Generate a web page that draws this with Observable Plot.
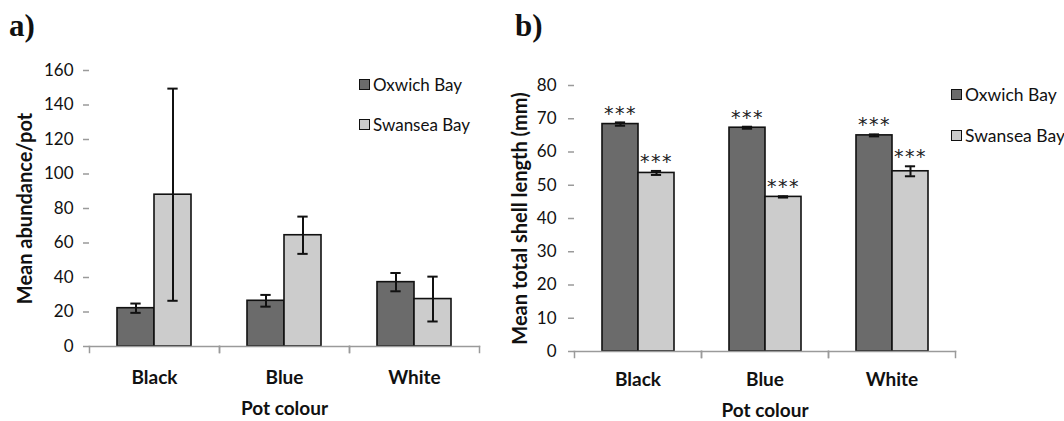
<!DOCTYPE html>
<html>
<head>
<meta charset="utf-8">
<script src="https://cdn.jsdelivr.net/npm/d3@7"></script>
<script src="https://cdn.jsdelivr.net/npm/@observablehq/plot@0.6"></script>
<style>
  body { margin: 0; background: #fff; }
  #fig { position: relative; width: 1064px; height: 421px; overflow: hidden; font-family: Lato, sans-serif; color: #111; }
  .panel { position: absolute; top: 0; }
  .tag { position: absolute; font-family: "Liberation Serif", "Times New Roman", serif; font-weight: bold; font-size: 31px; line-height: 1; }
  .legend { position: absolute; font-size: 17px; }
  .legend .row { position: absolute; left: 0; height: 20px; display: flex; align-items: center; white-space: nowrap; }
  .legend .sw { width: 9px; height: 9px; border: 1.5px solid #111; margin-right: 3px; }
</style>
</head>
<body>
<div id="fig">
  <div class="tag" style="left:9px;top:10px">a)</div>
  <div class="tag" style="left:515px;top:10px">b)</div>
  <div class="panel" id="panelA" style="left:0px"></div>
  <div class="panel" id="panelB" style="left:520px"></div>
  <div class="legend" id="legendA" style="left:359px;top:0px"></div>
  <div class="legend" id="legendB" style="left:951px;top:0px;font-size:17.5px"></div>
</div>
<script>
// Categories and series
const potColours = ["Black", "Blue", "White"];
const sites = ["Oxwich Bay", "Swansea Bay"];
const siteFills = ["#6b6b6b", "#cccccc"];

// a) Mean abundance per pot (± SE)
const abundanceOxwich = [22.2, 26.5, 37.3];
const abundanceOxwichSE = [2.7, 3.4, 5.3];
const abundanceSwansea = [88.0, 64.5, 27.5];
const abundanceSwanseaSE = [61.5, 10.8, 13.0];
const abundanceTicks = [0, 20, 40, 60, 80, 100, 120, 140, 160];

// b) Mean total shell length in mm (± SE) with significance flags
const lengthOxwich = [68.4, 67.3, 65.0];
const lengthOxwichSE = [0.5, 0.3, 0.3];
const lengthSwansea = [53.7, 46.5, 54.2];
const lengthSwanseaSE = [0.6, 0.2, 1.5];
const lengthOxwichSig = ["***", "***", "***"];
const lengthSwanseaSig = ["***", "***", "***"];
const lengthTicks = [0, 10, 20, 30, 40, 50, 60, 70, 80];

function rowsFrom(seriesA, seA, seriesB, seB, sigA, sigB) {
  const rows = [];
  potColours.forEach((pot, i) => {
    rows.push({pot, site: sites[0], value: seriesA[i], se: seA[i], sig: sigA ? sigA[i] : null});
    rows.push({pot, site: sites[1], value: seriesB[i], se: seB[i], sig: sigB ? sigB[i] : null});
  });
  return rows;
}

const axisGrey = "#9a9a9a";
const ink = "#111";

function groupedBars({rows, yDomain, yTicks, yLabel, width, height, margin, yTickPadding, yLabelOffset, xTickPadding, xLabelOffset, stars}) {
  const [mt, mr, mb, ml] = margin;
  const frameH = height - mt - mb;
  const outer = 0.73;
  const step = (width - ml - mr) / potColours.length;
  const bw = step / (2 + 2 * outer);
  const cap = (bw - 11) / 2;
  const lo = d => d.value - d.se;
  const hi = d => d.value + d.se;
  const marks = [
    Plot.barY(rows, {fx: "pot", x: "site", y: "value", fill: "site", stroke: ink, strokeWidth: 1.6}),
    Plot.ruleX(rows, {fx: "pot", x: "site", y1: lo, y2: hi, stroke: ink, strokeWidth: 2}),
    Plot.tickY(rows, {fx: "pot", x: "site", y: lo, stroke: ink, strokeWidth: 2, insetLeft: cap, insetRight: cap}),
    Plot.tickY(rows, {fx: "pot", x: "site", y: hi, stroke: ink, strokeWidth: 2, insetLeft: cap, insetRight: cap}),
    // category axis: baseline plus boundary ticks between pot colours
    Plot.frame({anchor: "bottom", stroke: axisGrey, strokeWidth: 1.5}),
    Plot.frame({anchor: "left", stroke: axisGrey, strokeWidth: 1.5, insetTop: frameH, insetBottom: -6}),
    Plot.frame({anchor: "right", stroke: axisGrey, strokeWidth: 1.5, insetTop: frameH, insetBottom: -6}),
    // value axis: line and outward ticks
    Plot.axisY({ticks: yTicks, tickSize: 6, line: true, stroke: axisGrey, strokeWidth: 1.5, fill: "none", label: null}),
    // value axis numbers
    Plot.text(yTicks, {y: d => d, text: d => String(d), frameAnchor: "left", textAnchor: "end",
      dx: -(6 + yTickPadding), fontSize: 17, fill: ink, facetAnchor: "left"}),
    Plot.axisY({ticks: [], line: false, label: yLabel, labelAnchor: "center", labelArrow: "none",
      labelOffset: yLabelOffset, fontSize: 20, fontWeight: "bold", fill: ink}),
    Plot.axisFx({anchor: "bottom", tickSize: 0, tickPadding: xTickPadding, fontSize: 19, fontWeight: "bold", fill: ink,
      label: "Pot colour", labelAnchor: "center", labelArrow: "none", labelOffset: xLabelOffset})
  ];
  if (stars) {
    marks.push(Plot.text(rows, {fx: "pot", x: "site", y: hi, text: "sig", dy: -9, lineAnchor: "middle",
      fontSize: 19, fill: "#222", fontFamily: "DejaVu Sans, sans-serif"}));
  }
  return Plot.plot({
    width, height,
    marginTop: mt, marginRight: mr, marginBottom: mb, marginLeft: ml,
    style: {fontFamily: "Lato, sans-serif", fontSize: "17px", color: ink, background: "transparent", overflow: "visible"},
    fx: {domain: potColours, padding: 0, label: null, axis: null},
    x: {domain: sites, paddingInner: 0, paddingOuter: outer, axis: null},
    y: {domain: yDomain, axis: null},
    color: {domain: sites, range: siteFills},
    marks
  });
}

const plotA = groupedBars({
  rows: rowsFrom(abundanceOxwich, abundanceOxwichSE, abundanceSwansea, abundanceSwanseaSE),
  yDomain: [0, 160], yTicks: abundanceTicks, yLabel: "Mean abundance/pot",
  width: 520, height: 421, margin: [70, 41, 75, 88], yTickPadding: 10, yLabelOffset: 72,
  xTickPadding: 24, xLabelOffset: 68, stars: false
});
document.getElementById("panelA").appendChild(plotA);

const plotB = groupedBars({
  rows: rowsFrom(lengthOxwich, lengthOxwichSE, lengthSwansea, lengthSwanseaSE, lengthOxwichSig, lengthSwanseaSig),
  yDomain: [0, 80], yTicks: lengthTicks, yLabel: "Mean total shell length (mm)",
  width: 544, height: 421, margin: [85, 109, 70, 53], yTickPadding: 12, yLabelOffset: 62,
  xTickPadding: 21, xLabelOffset: 65, stars: true
});
document.getElementById("panelB").appendChild(plotB);

// spaced-out significance asterisks
d3.select(plotB).selectAll("text").filter(function () { return this.textContent === "***"; })
  .style("letter-spacing", "1.5px");

// Legends
function legend(el, rowCentres) {
  sites.forEach((s, i) => {
    const row = document.createElement("div");
    row.className = "row";
    row.style.top = (rowCentres[i] - 10) + "px";
    const sw = document.createElement("span");
    sw.className = "sw";
    sw.style.background = siteFills[i];
    const label = document.createElement("span");
    label.textContent = s;
    row.appendChild(sw);
    row.appendChild(label);
    el.appendChild(row);
  });
}
legend(document.getElementById("legendA"), [84.7, 124]);
legend(document.getElementById("legendB"), [94.3, 135]);
</script>
</body>
</html>
